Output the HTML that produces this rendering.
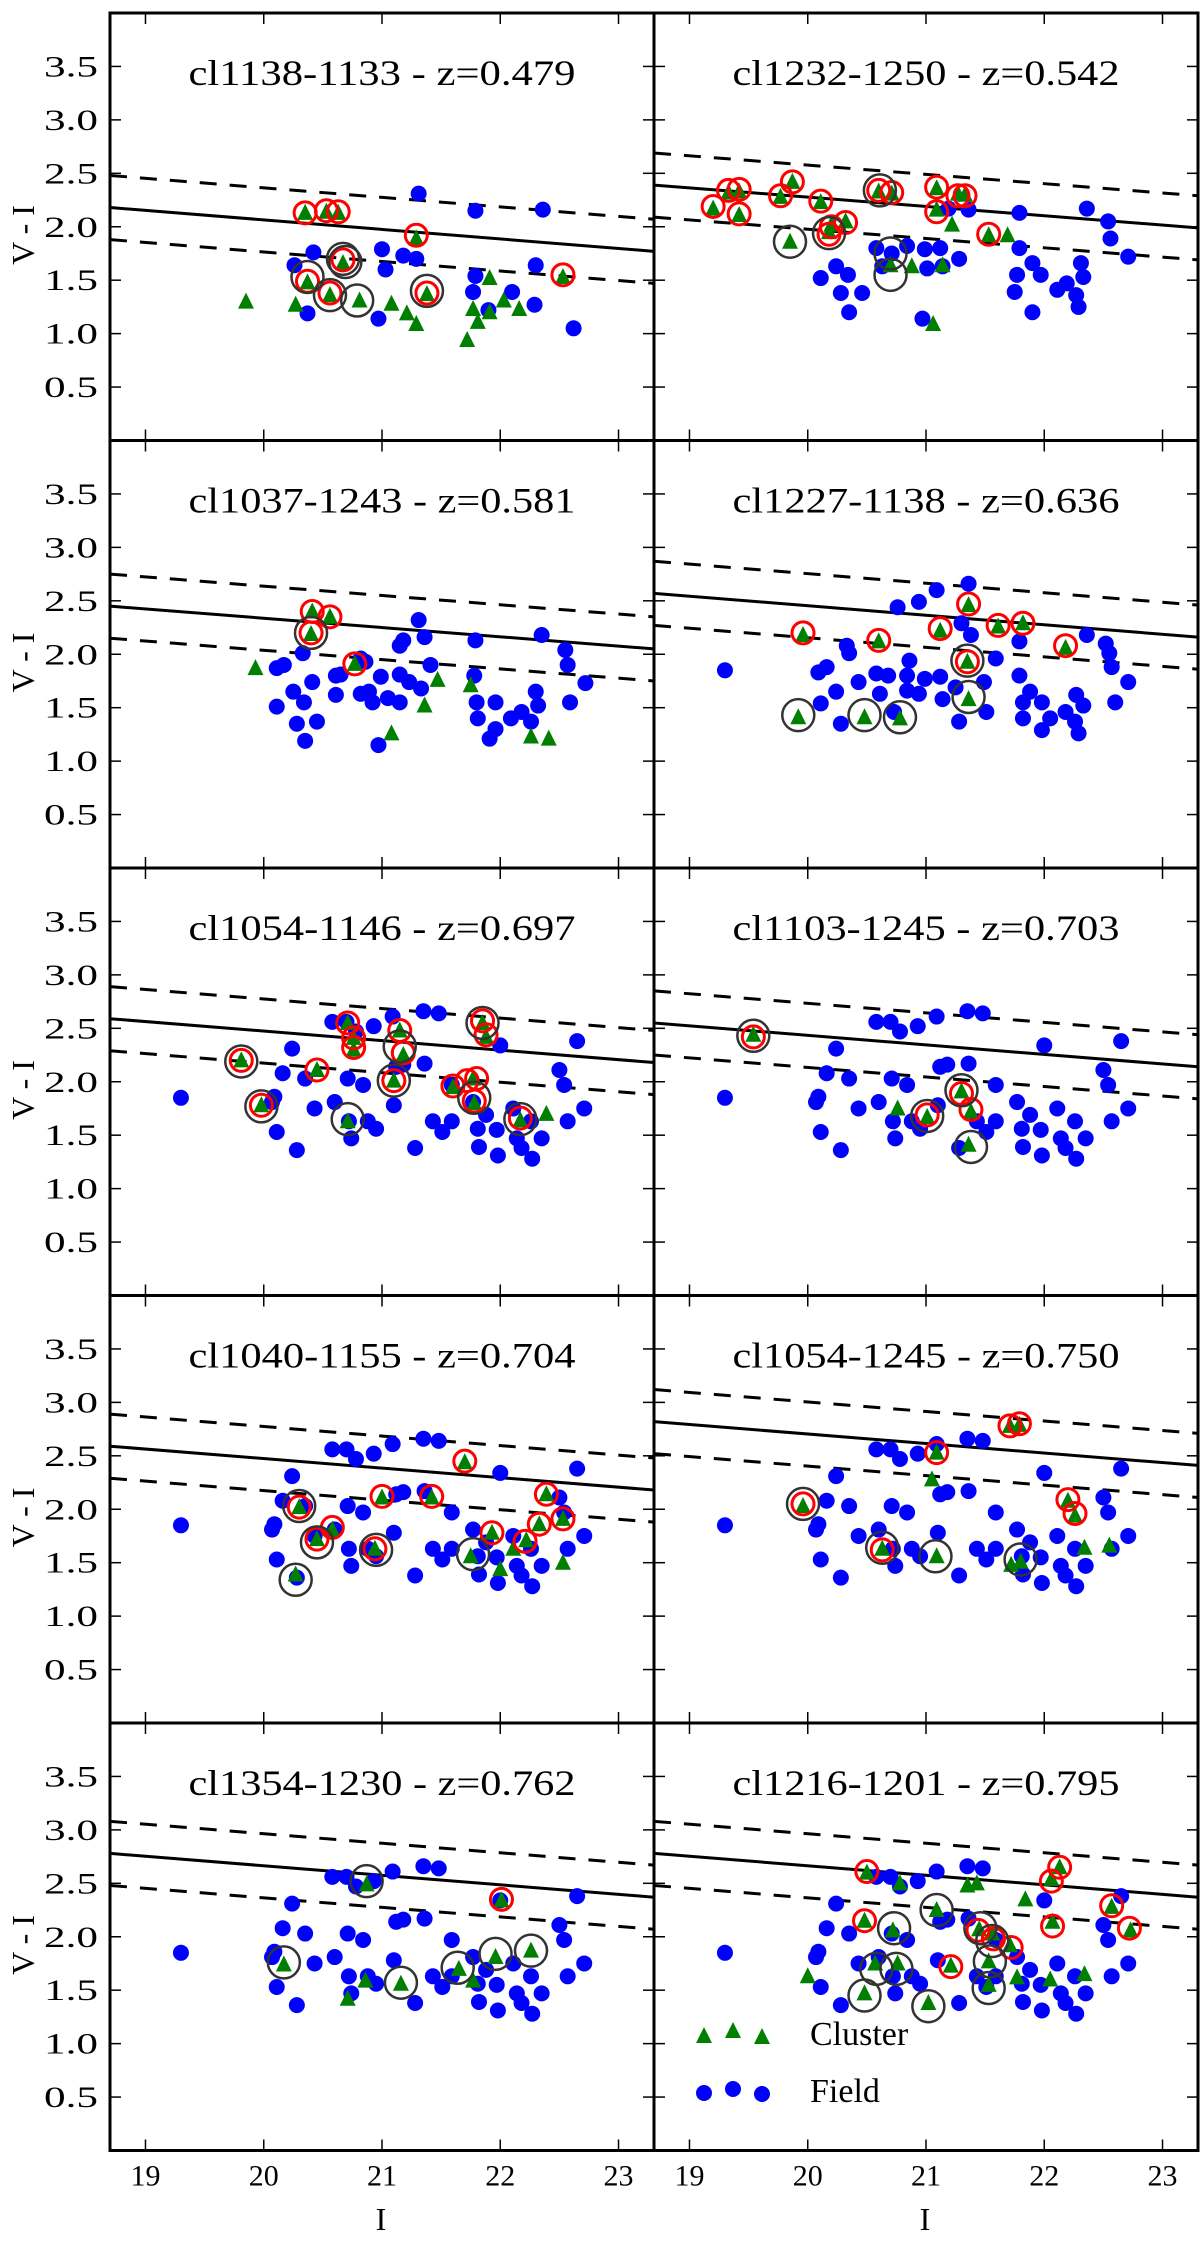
<!DOCTYPE html>
<html><head><meta charset="utf-8"><style>
html,body{margin:0;padding:0;background:#fff;}
svg{display:block;}
</style></head><body>
<svg id="chart" width="1200" height="2241" viewBox="0 0 1200 2241" xmlns="http://www.w3.org/2000/svg" font-family="'Liberation Serif', serif"></svg>
<script>
// ---------- data ----------
const titles = ["cl1138-1133 - z=0.479","cl1232-1250 - z=0.542","cl1037-1243 - z=0.581","cl1227-1138 - z=0.636","cl1054-1146 - z=0.697","cl1103-1245 - z=0.703","cl1040-1155 - z=0.704","cl1054-1245 - z=0.750","cl1354-1230 - z=0.762","cl1216-1201 - z=0.795"];
const xTicks = [19,20,21,22,23];
const yTicks = [0.5,1.0,1.5,2.0,2.5,3.0,3.5];
const yTickLabels = ["0.5","1.0","1.5","2.0","2.5","3.0","3.5"];
// red-sequence fit lines: [V-I at I=18.7, V-I at I=23.3]
const redLines = [[2.18,1.77],[2.39,1.99],[2.45,2.05],[2.57,2.16],[2.59,2.18],[2.55,2.14],[2.59,2.18],[2.82,2.41],[2.78,2.37],[2.78,2.37]];
const dashOffset = 0.3;

const field1 = [[21.31,2.31],[21.79,2.15],[22.36,2.16],[21.0,1.79],[21.03,1.60],[21.18,1.73],[21.29,1.70],[20.42,1.76],[20.26,1.64],[20.37,1.19],[20.97,1.14],[21.79,1.54],[21.77,1.39],[21.9,1.22],[22.1,1.39],[22.29,1.27],[22.30,1.64],[22.62,1.05]];
const cluster1 = [[19.85,1.30],[20.27,1.27],[20.37,1.48],[20.35,2.13],[20.53,2.14],[20.63,2.13],[20.67,1.66],[20.56,1.36],[20.81,1.31],[21.08,1.28],[21.21,1.19],[21.29,1.09],[21.29,1.89],[21.38,1.37],[21.72,0.94],[21.77,1.23],[21.81,1.11],[21.91,1.52],[21.91,1.20],[22.03,1.31],[22.16,1.23],[22.53,1.53]];
const red1 = [[20.35,2.13],[20.53,2.15],[20.63,2.14],[21.29,1.92],[20.67,1.69],[20.37,1.49],[20.56,1.38],[21.38,1.38],[22.53,1.55]];
const black1 = [[20.37,1.53],[20.56,1.36],[20.79,1.31],[21.38,1.40],[20.67,1.70],[20.69,1.67]];

const field2 = [[21.19,2.17],[21.36,2.16],[21.79,2.13],[22.36,2.17],[22.54,2.05],[22.56,1.89],[22.71,1.72],[20.58,1.80],[20.71,1.75],[20.84,1.82],[20.99,1.79],[21.12,1.80],[21.28,1.70],[21.01,1.61],[21.14,1.63],[20.24,1.63],[20.11,1.52],[20.34,1.55],[20.28,1.38],[20.46,1.38],[20.35,1.20],[21.79,1.80],[21.90,1.66],[21.77,1.55],[21.97,1.55],[21.75,1.39],[21.90,1.20],[22.11,1.41],[22.19,1.47],[22.27,1.36],[22.29,1.25],[22.31,1.66],[22.33,1.53],[20.97,1.14],[20.63,1.63]];
const cluster2 = [[19.20,2.17],[19.33,2.32],[19.42,2.33],[19.42,2.11],[19.77,2.28],[19.87,2.42],[20.11,2.23],[20.18,1.95],[20.20,2.02],[20.32,2.05],[19.85,1.86],[20.60,2.33],[20.71,2.31],[20.70,1.64],[20.88,1.63],[21.09,2.36],[21.09,2.16],[21.22,2.02],[21.27,2.31],[21.33,2.30],[21.14,1.64],[21.53,1.92],[21.69,1.92],[21.06,1.09]];
const red2 = [[19.20,2.19],[19.33,2.34],[19.42,2.35],[19.42,2.12],[19.77,2.29],[19.87,2.42],[20.11,2.24],[20.18,1.93],[20.20,2.00],[20.32,2.04],[20.60,2.34],[20.71,2.32],[21.09,2.37],[21.09,2.14],[21.27,2.29],[21.33,2.29],[21.53,1.93]];
const black2 = [[20.61,2.34],[19.85,1.86],[20.18,1.94],[20.70,1.75],[20.70,1.55]];

const fieldA = [[19.30,1.85],[20.35,2.01],[20.33,2.08],[20.09,1.83],[20.16,1.88],[20.24,1.65],[20.11,1.54],[20.28,1.35],[20.43,1.74],[20.58,1.82],[20.61,1.63],[20.68,1.80],[20.76,2.44],[20.94,2.49],[21.09,2.60],[20.86,1.94],[20.84,1.80],[20.99,1.77],[21.12,1.79],[20.84,1.66],[20.94,1.63],[21.14,1.58],[21.25,1.69],[21.28,1.37],[21.36,2.66],[21.38,2.18],[21.30,2.29],[21.49,1.74],[21.59,1.96],[21.51,1.46],[21.79,2.12],[21.79,1.80],[21.88,1.65],[21.82,1.55],[21.82,1.40],[21.98,1.55],[21.98,1.29],[22.05,1.40],[22.18,1.46],[22.26,1.37],[22.29,1.26],[22.27,1.62],[22.33,1.52],[22.36,2.18],[22.52,2.10],[22.55,2.01],[22.57,1.88],[22.60,1.55],[22.71,1.74],[20.73,1.46]];
const field3 = [[20.33,2.01],[20.41,1.74],[20.11,1.87],[20.17,1.90],[20.25,1.65],[20.34,1.55],[20.11,1.51],[20.28,1.35],[20.45,1.37],[20.35,1.19],[20.61,1.80],[20.65,1.81],[20.61,1.62],[20.82,1.96],[20.86,1.93],[20.82,1.63],[20.89,1.65],[20.92,1.55],[20.99,1.79],[21.05,1.59],[21.15,1.81],[21.15,1.55],[21.18,2.13],[21.15,2.08],[21.31,2.32],[21.36,2.16],[21.23,1.74],[21.33,1.68],[21.41,1.90],[20.97,1.15],[21.79,2.13],[21.78,1.80],[21.80,1.55],[21.96,1.55],[21.81,1.40],[21.96,1.30],[21.91,1.21],[22.09,1.40],[22.18,1.46],[22.26,1.37],[22.30,1.65],[22.32,1.52],[22.35,2.18],[22.55,2.04],[22.57,1.90],[22.72,1.73],[22.59,1.55]];
const cluster3 = [[19.93,1.87],[20.41,2.40],[20.56,2.35],[20.40,2.19],[20.77,1.91],[21.47,1.76],[21.36,1.52],[21.75,1.71],[21.08,1.26],[22.26,1.23],[22.41,1.21]];
const red3 = [[20.41,2.40],[20.56,2.35],[20.40,2.20],[20.77,1.91]];
const black3 = [[20.40,2.20]];

const cluster4 = [[19.96,2.18],[20.60,2.12],[21.12,2.22],[21.36,2.46],[21.61,2.26],[21.82,2.29],[22.18,2.06],[21.35,1.93],[21.36,1.58],[19.92,1.41],[20.48,1.41],[20.78,1.40]];
const red4 = [[19.96,2.20],[20.60,2.13],[21.12,2.24],[21.36,2.47],[21.61,2.27],[21.82,2.29],[22.18,2.08],[21.35,1.93]];
const black4 = [[21.35,1.94],[21.36,1.60],[19.92,1.43],[20.48,1.43],[20.78,1.41]];

const fieldB = [[19.30,1.85],[20.24,2.31],[20.16,2.08],[20.09,1.86],[20.07,1.81],[20.11,1.53],[20.28,1.36],[20.35,2.03],[20.43,1.75],[20.58,2.56],[20.70,2.56],[20.78,2.47],[20.93,2.52],[21.09,2.61],[20.60,1.81],[20.71,2.03],[20.84,1.97],[20.72,1.63],[20.74,1.47],[20.88,1.63],[21.10,1.78],[21.12,2.14],[21.18,2.16],[21.35,2.66],[21.36,2.17],[21.48,2.64],[21.43,1.63],[21.51,1.53],[21.59,1.97],[21.59,1.63],[21.77,1.81],[21.81,1.56],[21.82,1.39],[21.88,1.69],[21.97,1.55],[22.00,2.34],[22.11,1.75],[22.14,1.47],[22.18,1.38],[22.26,1.63],[22.27,1.28],[22.35,1.47],[22.50,2.11],[22.54,1.97],[22.57,1.63],[22.71,1.75],[22.65,2.38],[21.98,1.31],[20.95,1.56],[21.28,1.38]];
const cluster5 = [[19.81,2.20],[19.98,1.78],[20.45,2.11],[20.71,2.55],[20.76,2.41],[20.76,2.30],[20.71,1.63],[21.15,2.48],[21.18,2.25],[21.10,2.01],[21.60,1.95],[21.77,2.03],[21.78,1.80],[21.85,2.55],[21.88,2.42],[22.17,1.64],[22.39,1.70]];
const red5 = [[19.81,2.20],[19.98,1.78],[20.45,2.11],[20.71,2.55],[20.76,2.41],[20.76,2.32],[21.15,2.48],[21.18,2.27],[21.10,2.01],[21.60,1.96],[21.72,2.01],[21.80,2.03],[21.78,1.82],[21.85,2.57],[21.88,2.44],[22.17,1.66]];
const black5 = [[19.81,2.19],[19.98,1.77],[20.71,1.65],[21.15,2.33],[21.10,2.01],[21.78,1.85],[21.85,2.55],[22.17,1.65]];

const cluster6 = [[19.54,2.44],[20.76,1.75],[21.01,1.67],[21.30,1.91],[21.38,1.72],[21.36,1.41]];
const red6 = [[19.54,2.42],[21.01,1.69],[21.30,1.89],[21.38,1.74]];
const black6 = [[19.54,2.43],[21.01,1.68],[21.30,1.92],[21.38,1.39]];

const cluster7 = [[20.30,2.02],[20.45,1.72],[20.58,1.81],[20.27,1.39],[20.94,1.63],[21.00,2.11],[21.42,2.11],[21.70,2.44],[21.75,1.56],[21.93,1.78],[22.00,1.44],[22.11,1.63],[22.22,1.71],[22.33,1.86],[22.39,2.14],[22.53,1.91],[22.53,1.50]];
const red7 = [[20.30,2.02],[20.45,1.72],[20.58,1.83],[20.94,1.63],[21.00,2.12],[21.42,2.12],[21.70,2.45],[21.93,1.78],[22.21,1.70],[22.33,1.86],[22.39,2.14],[22.53,1.91]];
const black7 = [[20.30,2.03],[20.45,1.69],[20.27,1.34],[20.95,1.62],[21.77,1.58]];

const cluster8 = [[19.96,2.03],[20.63,1.63],[21.09,2.53],[21.05,2.28],[21.09,1.56],[21.71,2.78],[21.79,2.79],[21.72,1.48],[21.80,1.51],[22.20,2.08],[22.26,1.94],[22.34,1.64],[22.55,1.66]];
const red8 = [[19.96,2.05],[20.63,1.62],[21.09,2.53],[21.71,2.78],[21.79,2.80],[22.20,2.09],[22.26,1.96]];
const black8 = [[19.96,2.05],[20.63,1.64],[21.08,1.56],[21.80,1.53]];

const cluster9 = [[20.17,1.74],[20.87,2.49],[20.86,1.59],[20.71,1.42],[21.16,1.56],[21.65,1.70],[21.77,1.59],[21.96,1.81],[22.26,1.87],[22.01,2.34]];
const red9 = [[22.01,2.35]];
const black9 = [[20.17,1.76],[20.87,2.52],[21.16,1.57],[21.64,1.71],[21.96,1.84],[22.26,1.87]];

const cluster10 = [[20.50,2.60],[20.48,2.15],[20.72,2.06],[20.78,2.50],[21.09,2.25],[20.57,1.75],[20.76,1.75],[20.48,1.47],[21.02,1.38],[21.21,1.73],[21.35,2.48],[21.43,2.50],[21.45,2.07],[21.56,2.03],[21.71,1.92],[21.53,1.77],[21.53,1.55],[21.77,1.62],[21.84,2.35],[22.05,1.60],[22.06,2.54],[22.07,2.14],[22.13,2.65],[22.34,1.65],[22.57,2.28],[22.73,2.06],[20.0,1.63]];
const red10 = [[20.50,2.61],[20.48,2.15],[21.21,1.72],[21.44,2.06],[21.57,1.98],[21.72,1.90],[22.06,2.52],[22.13,2.65],[22.07,2.10],[22.57,2.29],[22.72,2.08]];
const black10 = [[20.73,2.08],[21.09,2.25],[20.58,1.70],[20.75,1.70],[20.48,1.45],[21.02,1.35],[21.46,2.08],[21.56,1.96],[21.54,1.77],[21.53,1.52]];

const panelField = [field1, field2, field3, fieldA, fieldB, fieldB, fieldB, fieldB, fieldB, fieldB];
const panelCluster = [cluster1, cluster2, cluster3, cluster4, cluster5, cluster6, cluster7, cluster8, cluster9, cluster10];
const panelRed = [red1, red2, red3, red4, red5, red6, red7, red8, red9, red10];
const panelBlack = [black1, black2, black3, black4, black5, black6, black7, black8, black9, black10];

// ---------- layout ----------
const NS = "http://www.w3.org/2000/svg";
const svg = document.getElementById("chart");
const X_MIN = 18.7, X_MAX = 23.3, Y_MIN = 0, Y_MAX = 4;
const COL_X = [110, 654], PW = 544, ROW_TOP = 13, PH = 427.5;

function mk(tag, attrs, parent) {
  const e = document.createElementNS(NS, tag);
  for (const k in attrs) e.setAttribute(k, attrs[k]);
  (parent || svg).appendChild(e);
  return e;
}

for (let p = 0; p < 10; p++) {
  const col = p % 2, row = Math.floor(p / 2);
  const x0 = COL_X[col], y0 = ROW_TOP + row * PH;
  const sx = v => x0 + (v - X_MIN) / (X_MAX - X_MIN) * PW;
  const sy = v => y0 + (Y_MAX - v) / (Y_MAX - Y_MIN) * PH;
  const g = mk("g", {});
  
  
  const clipId = "clip" + p;
  const cp = mk("clipPath", {id: clipId}, g);
  mk("rect", {x: x0, y: y0, width: PW, height: PH}, cp);

  // ticks
  xTicks.forEach(t => {
    const x = sx(t);
    const a = mk("line", {x1: x, x2: x, y1: y0 + PH, y2: y0 + PH - 11, stroke: "#000", "stroke-width": 1.5}, g);
    
    
    const b = mk("line", {x1: x, x2: x, y1: y0, y2: y0 + 11, stroke: "#000", "stroke-width": 1.5}, g);
    
    
    if (row === 4) {
      const tl = mk("text", {x: x, y: y0 + PH + 35, "text-anchor": "middle", "font-size": 30}, g);
      tl.textContent = String(t);
      
      
    }
  });
  yTicks.forEach((t, i) => {
    const y = sy(t);
    const a = mk("line", {x1: x0, x2: x0 + 11, y1: y, y2: y, stroke: "#000", "stroke-width": 1.5}, g);
    
    
    const b = mk("line", {x1: x0 + PW - 11, x2: x0 + PW, y1: y, y2: y, stroke: "#000", "stroke-width": 1.5}, g);
    
    
    if (col === 0) {
      const tl = mk("text", {x: 98, y: y + 10, "text-anchor": "end", "font-size": 30, textLength: 54, lengthAdjust: "spacingAndGlyphs"}, g);
      tl.textContent = yTickLabels[i];
      
      
    }
  });

  // title
  const tt = mk("text", {x: x0 + PW / 2, y: y0 + 72, "text-anchor": "middle", "font-size": 36, textLength: 387, lengthAdjust: "spacingAndGlyphs"}, g);
  tt.textContent = titles[p];
  
  

  // lines
  const plot = mk("g", {"clip-path": "url(#" + clipId + ")"}, g);
  const L = redLines[p];
  const ls = mk("line", {x1: sx(X_MIN), y1: sy(L[0]), x2: sx(X_MAX), y2: sy(L[1]), stroke: "#000", "stroke-width": 3}, plot);
  
  
  [dashOffset, -dashOffset].forEach(o => {
    const d = mk("line", {x1: sx(X_MIN), y1: sy(L[0] + o), x2: sx(X_MAX), y2: sy(L[1] + o), stroke: "#000", "stroke-width": 3, "stroke-dasharray": "17,13"}, plot);
    
    
  });

  panelField[p].forEach(d => {
    const c = mk("circle", {cx: sx(d[0]), cy: sy(d[1]), r: 8, fill: "#0000ff"}, plot);
    
    
  });
  panelCluster[p].forEach(d => {
    const x = sx(d[0]), y = sy(d[1]);
    const t = mk("polygon", {points: (x - 8) + "," + (y + 7) + " " + (x + 8) + "," + (y + 7) + " " + x + "," + (y - 9), fill: "#007f00"}, plot);
    
    
  });
  panelRed[p].forEach(d => {
    const c = mk("circle", {cx: sx(d[0]), cy: sy(d[1]), r: 11, fill: "none", stroke: "#ff0000", "stroke-width": 3}, plot);
    
    
  });
  panelBlack[p].forEach(d => {
    const c = mk("circle", {cx: sx(d[0]), cy: sy(d[1]), r: 16, fill: "none", stroke: "#333", "stroke-width": 2.5}, plot);
    
    
  });

  // frame
  const fr = mk("rect", {x: x0, y: y0, width: PW, height: PH, fill: "none", stroke: "#000", "stroke-width": 3}, g);
  
  

  if (col === 0) {
    const yl = mk("text", {x: 0, y: 0, "text-anchor": "middle", "font-size": 32, transform: "translate(34," + (y0 + 222) + ") rotate(-90)"}, g);
    yl.textContent = "V - I";
    
    
  }
  if (row === 4) {
    const xl = mk("text", {x: x0 + PW / 2 - 1, y: 2230, "text-anchor": "middle", "font-size": 32}, g);
    xl.textContent = "I";
    
    
  }
}

// legend (last panel)
const lg = mk("g", {});


[[704, 2036], [733, 2031], [762, 2037]].forEach(q => {
  const t = mk("polygon", {points: (q[0] - 8) + "," + (q[1] + 7) + " " + (q[0] + 8) + "," + (q[1] + 7) + " " + q[0] + "," + (q[1] - 9), fill: "#007f00"}, lg);
  
  
});
[[704, 2093], [733, 2089], [762, 2094]].forEach(q => {
  const c = mk("circle", {cx: q[0], cy: q[1], r: 8, fill: "#0000ff"}, lg);
  
  
});
const lt1 = mk("text", {x: 810, y: 2045, "font-size": 34}, lg);
lt1.textContent = "Cluster";


const lt2 = mk("text", {x: 810, y: 2102, "font-size": 34}, lg);
lt2.textContent = "Field";


</script>
</body></html>
